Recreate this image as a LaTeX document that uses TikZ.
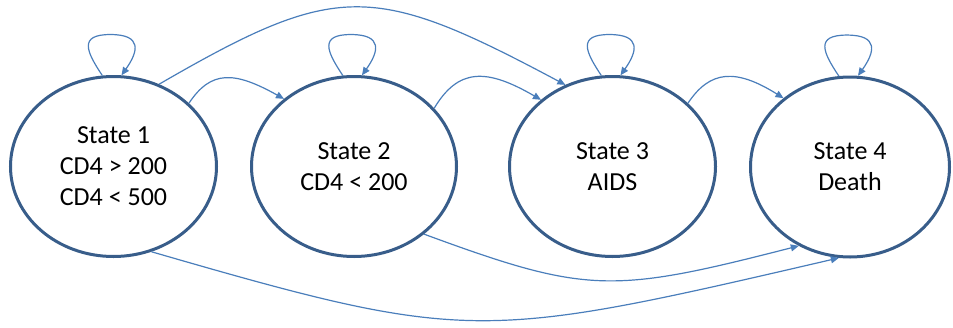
\documentclass[tikz,border=0pt]{standalone}
\usepackage{fontspec}
\setmainfont{Carlito}
\usetikzlibrary{arrows.meta,shapes.geometric}
\definecolor{ellcol}{HTML}{385D8A}
\definecolor{edgecol}{HTML}{4A7EBB}
\begin{document}
\begin{tikzpicture}[x=1pt,y=-1pt,
  state/.style={ellipse,draw=ellcol,fill=white,line width=3pt,inner sep=0pt,
    minimum height=180pt,align=center,font=\fontsize{26}{31}\selectfont},
  edge/.style={draw=edgecol,line width=1.2pt,-{Triangle[length=8pt,width=7pt]}}]
\useasboundingbox (0,0) rectangle (953,327);
\node[state,minimum width=206pt] (s1) at (113.5,166.5) {State 1\\CD4 > 200\\CD4 < 500};
\node[state,minimum width=205pt] (s2) at (354,166.5) {State 2\\CD4 < 200};
\node[state,minimum width=206pt] (s3) at (612.5,166.5) {State 3\\AIDS};
\node[state,minimum width=199pt] (s4) at (850,167) {State 4\\Death};
% self loops
\foreach \s in {s1,s2,s3,s4}{
  \draw[edge] (\s.97) .. controls +(-16,-24) and +(-32,0) .. ++(8,-41)
              .. controls +(32,0) and +(17,-24) .. (\s.85);
}
% forward transitions
\draw[edge] (s1.61) .. controls +(178,-103) and +(-193,-103) .. (s3.120);
\draw[edge] (s1.40) .. controls +(22,-33) and +(-50,-28) .. (s2.136);
\draw[edge] (s2.36) .. controls +(24,-40) and +(-55,-32) .. (s3.137);
\draw[edge] (s3.40) .. controls +(22,-33) and +(-48,-30) .. (s4.134);
\draw[edge] (s2.316) .. controls +(163,60) and +(-187,48) .. (s4.237);
\draw[edge] (s1.294) .. controls +(318,92) and +(-358,83) .. (s4.263);
\end{tikzpicture}
\end{document}
